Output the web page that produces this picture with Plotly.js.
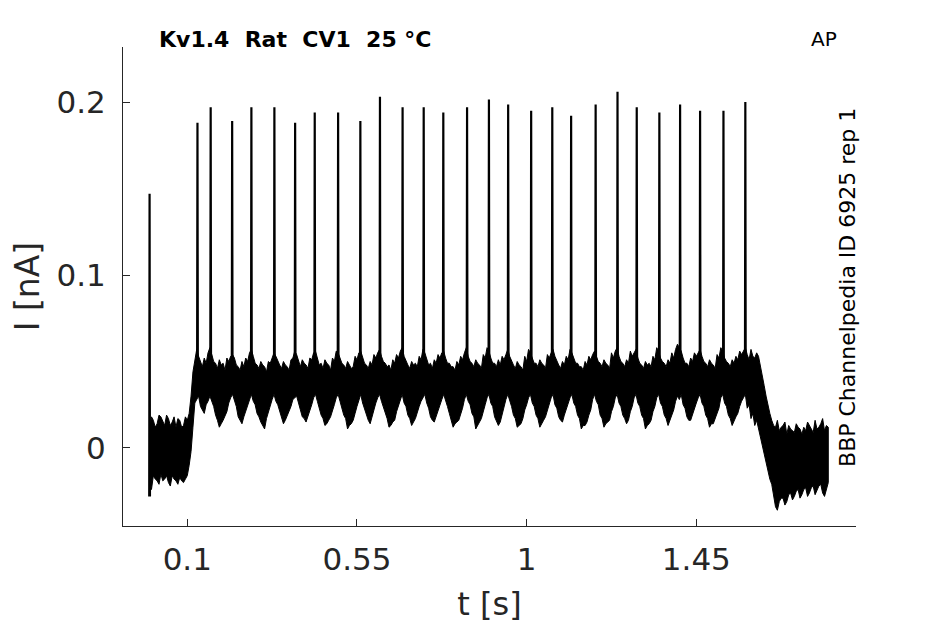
<!DOCTYPE html>
<html>
<head>
<meta charset="utf-8">
<script src="https://cdn.plot.ly/plotly-3.0.1.min.js"></script>
<style>html,body{margin:0;padding:0;background:#fff;}#chart{width:945px;height:624px;}</style>
</head>
<body>
<div id="chart"></div>
<script>
// Envelope of the noisy current trace (s, nA)
const envT = [0.00,0.01,0.02,0.03,0.04,0.05,0.06,0.07,0.08,0.09,0.10,0.11,0.12,0.13,0.14,0.15,0.16,0.17,0.18,0.19,
0.20,0.21,0.22,0.23,0.24,0.25,0.26,0.27,0.28,0.29,0.30,0.31,0.32,0.33,0.34,0.35,0.36,0.37,0.38,0.39,
0.40,0.41,0.42,0.43,0.44,0.45,0.46,0.47,0.48,0.49,0.50,0.51,0.52,0.53,0.54,0.55,0.56,0.57,0.58,0.59,
0.60,0.61,0.62,0.63,0.64,0.65,0.66,0.67,0.68,0.69,0.70,0.71,0.72,0.73,0.74,0.75,0.76,0.77,0.78,0.79,
0.80,0.81,0.82,0.83,0.84,0.85,0.86,0.87,0.88,0.89,0.90,0.91,0.92,0.93,0.94,0.95,0.96,0.97,0.98,0.99,
1.00,1.01,1.02,1.03,1.04,1.05,1.06,1.07,1.08,1.09,1.10,1.11,1.12,1.13,1.14,1.15,1.16,1.17,1.18,1.19,
1.20,1.21,1.22,1.23,1.24,1.25,1.26,1.27,1.28,1.29,1.30,1.31,1.32,1.33,1.34,1.35,1.36,1.37,1.38,1.39,
1.40,1.41,1.42,1.43,1.44,1.45,1.46,1.47,1.48,1.49,1.50,1.51,1.52,1.53,1.54,1.55,1.56,1.57,1.58,1.59,
1.60,1.61,1.62,1.63,1.64,1.65,1.66,1.67,1.68,1.69,1.70,1.71,1.72,1.73,1.74,1.75,1.76,1.77,1.78,1.79,1.80];

const envUpper = [0.010,0.016,0.014,0.018,0.013,0.017,0.015,0.012,0.016,0.013,0.016,0.030,0.052,0.053,0.047,0.049,0.058,0.050,0.046,0.048,
0.045,0.050,0.054,0.048,0.045,0.047,0.050,0.057,0.049,0.046,0.048,0.044,0.049,0.055,0.050,0.046,0.048,0.045,0.052,0.054,
0.047,0.049,0.046,0.051,0.056,0.048,0.046,0.049,0.045,0.050,0.055,0.049,0.046,0.048,0.047,0.051,0.056,0.049,0.046,0.048,
0.052,0.057,0.050,0.047,0.045,0.049,0.052,0.058,0.050,0.046,0.048,0.047,0.051,0.055,0.048,0.046,0.049,0.052,0.056,0.049,
0.047,0.045,0.048,0.051,0.058,0.050,0.047,0.049,0.046,0.052,0.056,0.049,0.047,0.048,0.051,0.057,0.050,0.046,0.048,0.045,
0.050,0.055,0.049,0.047,0.049,0.046,0.052,0.057,0.050,0.046,0.048,0.051,0.055,0.049,0.047,0.045,0.048,0.051,0.056,0.050,
0.047,0.049,0.046,0.052,0.058,0.050,0.047,0.049,0.053,0.057,0.049,0.046,0.048,0.047,0.051,0.056,0.050,0.047,0.049,0.052,
0.060,0.056,0.049,0.047,0.050,0.053,0.057,0.050,0.047,0.049,0.046,0.052,0.056,0.050,0.047,0.049,0.051,0.054,0.058,0.051,
0.053,0.055,0.048,0.036,0.024,0.016,0.012,0.010,0.013,0.008,0.011,0.009,0.012,0.008,0.010,0.013,0.009,0.011,0.014,0.010,0.012];

const envLower = [-0.020,-0.016,-0.019,-0.015,-0.018,-0.020,-0.016,-0.019,-0.017,-0.020,-0.016,-0.002,0.026,0.030,0.022,0.025,0.030,0.024,0.016,0.014,
0.018,0.026,0.031,0.024,0.016,0.018,0.024,0.031,0.025,0.018,0.013,0.017,0.024,0.031,0.025,0.018,0.016,0.021,0.028,0.030,
0.022,0.017,0.019,0.025,0.031,0.024,0.017,0.014,0.018,0.025,0.031,0.024,0.017,0.013,0.016,0.024,0.031,0.023,0.016,0.018,
0.026,0.031,0.024,0.017,0.013,0.016,0.024,0.031,0.024,0.017,0.015,0.020,0.027,0.031,0.023,0.016,0.018,0.025,0.031,0.024,
0.017,0.014,0.016,0.023,0.031,0.025,0.018,0.013,0.017,0.025,0.031,0.024,0.016,0.015,0.023,0.031,0.024,0.017,0.013,0.017,
0.025,0.031,0.024,0.017,0.014,0.018,0.025,0.031,0.023,0.016,0.019,0.026,0.031,0.024,0.017,0.013,0.015,0.022,0.031,0.025,
0.017,0.014,0.016,0.024,0.031,0.024,0.017,0.016,0.024,0.031,0.024,0.017,0.013,0.016,0.024,0.031,0.024,0.017,0.015,0.022,
0.030,0.031,0.023,0.016,0.019,0.026,0.031,0.024,0.017,0.014,0.016,0.023,0.031,0.024,0.017,0.015,0.020,0.027,0.031,0.025,
0.020,0.016,0.008,-0.004,-0.013,-0.021,-0.034,-0.031,-0.029,-0.031,-0.026,-0.028,-0.024,-0.027,-0.023,-0.026,-0.022,-0.025,-0.021,-0.028,-0.020];

// Extra noise excursions read between the samples above
const envTMid = [0.005,0.015,0.025,0.035,0.045,0.055,0.065,0.075,0.085,0.095,0.105,0.115,0.125,0.135,0.145,0.155,0.165,0.175,0.185,0.195,
0.205,0.215,0.225,0.235,0.245,0.255,0.265,0.275,0.285,0.295,0.305,0.315,0.325,0.335,0.345,0.355,0.365,0.375,0.385,0.395,
0.405,0.415,0.425,0.435,0.445,0.455,0.465,0.475,0.485,0.495,0.505,0.515,0.525,0.535,0.545,0.555,0.565,0.575,0.585,0.595,
0.605,0.615,0.625,0.635,0.645,0.655,0.665,0.675,0.685,0.695,0.705,0.715,0.725,0.735,0.745,0.755,0.765,0.775,0.785,0.795,
0.805,0.815,0.825,0.835,0.845,0.855,0.865,0.875,0.885,0.895,0.905,0.915,0.925,0.935,0.945,0.955,0.965,0.975,0.985,0.995,
1.005,1.015,1.025,1.035,1.045,1.055,1.065,1.075,1.085,1.095,1.105,1.115,1.125,1.135,1.145,1.155,1.165,1.175,1.185,1.195,
1.205,1.215,1.225,1.235,1.245,1.255,1.265,1.275,1.285,1.295,1.305,1.315,1.325,1.335,1.345,1.355,1.365,1.375,1.385,1.395,
1.405,1.415,1.425,1.435,1.445,1.455,1.465,1.475,1.485,1.495,1.505,1.515,1.525,1.535,1.545,1.555,1.565,1.575,1.585,1.595,
1.605,1.615,1.625,1.635,1.645,1.655,1.665,1.675,1.685,1.695,1.705,1.715,1.725,1.735,1.745,1.755,1.765,1.775,1.785,1.795];

const envUpperMid = [0.018,0.012,0.019,0.015,0.019,0.013,0.018,0.017,0.012,0.018,0.020,0.044,0.057,0.050,0.052,0.055,0.054,0.049,0.051,0.049,
0.052,0.053,0.052,0.047,0.050,0.052,0.055,0.053,0.048,0.050,0.047,0.050,0.052,0.053,0.048,0.050,0.047,0.051,0.056,0.050,
0.051,0.048,0.052,0.055,0.052,0.049,0.051,0.048,0.052,0.056,0.052,0.048,0.050,0.046,0.053,0.055,0.052,0.048,0.050,0.054,
0.055,0.053,0.049,0.048,0.051,0.054,0.056,0.053,0.048,0.050,0.049,0.053,0.057,0.051,0.049,0.051,0.054,0.055,0.052,0.049,
0.047,0.050,0.053,0.055,0.053,0.049,0.051,0.048,0.054,0.058,0.052,0.049,0.051,0.053,0.054,0.053,0.048,0.050,0.047,0.053,
0.057,0.052,0.049,0.051,0.048,0.054,0.055,0.053,0.048,0.050,0.053,0.057,0.052,0.049,0.047,0.050,0.053,0.054,0.053,0.049,
0.051,0.048,0.055,0.056,0.053,0.049,0.051,0.056,0.055,0.052,0.048,0.050,0.049,0.053,0.058,0.052,0.049,0.051,0.055,0.057,
0.058,0.052,0.049,0.052,0.055,0.055,0.053,0.049,0.051,0.048,0.054,0.058,0.052,0.049,0.051,0.053,0.056,0.056,0.054,0.057,
0.052,0.053,0.043,0.030,0.020,0.013,0.016,0.012,0.015,0.013,0.010,0.014,0.011,0.012,0.015,0.011,0.016,0.012,0.017,0.013];

const envLowerMid = [-0.024,-0.018,-0.021,-0.019,-0.016,-0.022,-0.018,-0.021,-0.019,-0.018,-0.010,0.012,0.028,0.024,0.020,0.027,0.027,0.019,0.012,0.016,
0.021,0.029,0.027,0.018,0.014,0.021,0.028,0.027,0.020,0.015,0.011,0.020,0.028,0.027,0.021,0.014,0.019,0.024,0.029,0.026,
0.018,0.015,0.022,0.029,0.027,0.019,0.013,0.016,0.021,0.029,0.027,0.019,0.011,0.014,0.020,0.028,0.026,0.019,0.014,0.022,
0.029,0.027,0.020,0.012,0.015,0.021,0.028,0.026,0.019,0.013,0.017,0.024,0.029,0.026,0.018,0.015,0.022,0.028,0.027,0.020,
0.012,0.015,0.020,0.028,0.027,0.020,0.011,0.015,0.021,0.029,0.026,0.018,0.013,0.019,0.028,0.027,0.019,0.012,0.014,0.022,
0.029,0.026,0.019,0.012,0.016,0.022,0.029,0.025,0.018,0.015,0.023,0.029,0.026,0.019,0.011,0.013,0.019,0.028,0.027,0.019,
0.012,0.015,0.021,0.029,0.026,0.019,0.014,0.021,0.029,0.026,0.019,0.011,0.014,0.021,0.029,0.026,0.019,0.013,0.019,0.027,
0.028,0.025,0.018,0.016,0.023,0.029,0.026,0.019,0.012,0.014,0.020,0.029,0.026,0.019,0.013,0.018,0.024,0.029,0.023,0.017,
0.013,0.011,0.001,-0.009,-0.018,-0.028,-0.036,-0.029,-0.033,-0.027,-0.030,-0.025,-0.029,-0.024,-0.028,-0.023,-0.027,-0.022,-0.026,-0.024];

// Action potential spikes: time (s), peak (nA), foot (nA)
const spikeT = [0.000,0.127,0.162,0.219,0.270,0.331,0.386,0.438,0.500,0.559,0.611,0.671,0.727,0.779,
0.842,0.900,0.951,1.012,1.068,1.118,1.183,1.241,1.292,1.352,1.407,1.460,1.522,1.580];
const spikePeak = [0.147,0.188,0.197,0.189,0.197,0.197,0.188,0.194,0.194,0.189,0.203,0.197,0.197,0.194,
0.197,0.2015,0.1985,0.195,0.197,0.192,0.1985,0.206,0.197,0.194,0.1985,0.195,0.195,0.200];
const spikeFoot = [-0.028,0.040,0.040,0.040,0.040,0.040,0.040,0.040,0.040,0.040,0.040,0.040,0.040,0.040,
0.040,0.040,0.040,0.040,0.040,0.040,0.040,0.040,0.040,0.040,0.040,0.040,0.040,0.040];

const xTickVals = [0.1, 0.55, 1, 1.45];
const xTickText = ['0.1', '0.55', '1', '1.45'];
const yTickVals = [0, 0.1, 0.2];
const yTickText = ['0', '0.1', '0.2'];

// band polygon: upper edge forward, lower edge backward
const upX = [], upY = [], loX = [], loY = [];
for (let i = 0; i < envT.length; i++) {
  upX.push(envT[i]); upY.push(envUpper[i]);
  loX.push(envT[i]); loY.push(envLower[i]);
  if (i < envTMid.length) {
    upX.push(envTMid[i]); upY.push(envUpperMid[i]);
    loX.push(envTMid[i]); loY.push(envLowerMid[i]);
  }
}
const bandX = upX.concat(loX.slice().reverse());
const bandY = upY.concat(loY.slice().reverse());

const spX = [], spY = [];
const hw = 0.001;
for (let i = 0; i < spikeT.length; i++) {
  spX.push(spikeT[i] - hw, spikeT[i], spikeT[i] + hw, null);
  spY.push(spikeFoot[i], spikePeak[i], spikeFoot[i], null);
}

const ink = '#262626';
const FONT = 'DejaVu Sans';

const traces = [
  {x: bandX, y: bandY, type: 'scatter', mode: 'lines', fill: 'toself',
   fillcolor: '#000', line: {color: '#000', width: 1}, hoverinfo: 'skip', showlegend: false},
  {x: spX, y: spY, type: 'scatter', mode: 'lines',
   line: {color: '#000', width: 2.2}, hoverinfo: 'skip', showlegend: false}
];

const layout = {
  width: 945, height: 624,
  margin: {l: 123, r: 89, t: 47, b: 98},
  paper_bgcolor: '#fff', plot_bgcolor: '#fff',
  showlegend: false,
  xaxis: {
    range: [-0.0705, 1.8735], showgrid: false, zeroline: false,
    showline: true, linecolor: ink, linewidth: 1,
    ticks: 'inside', ticklen: 7, tickwidth: 1, tickcolor: ink,
    tickvals: xTickVals, ticktext: xTickText, ticklabelstandoff: 6,
    tickfont: {family: FONT, size: 31, color: ink},
    title: {text: 't [s]', font: {family: FONT, size: 32, color: ink}, standoff: 16}
  },
  yaxis: {
    range: [-0.0451, 0.2318], showgrid: false, zeroline: false,
    showline: true, linecolor: ink, linewidth: 1,
    ticks: 'inside', ticklen: 7, tickwidth: 1, tickcolor: ink,
    tickvals: yTickVals, ticktext: yTickText, ticklabelstandoff: 10,
    tickfont: {family: FONT, size: 31, color: ink},
    title: {text: 'I [nA]', font: {family: FONT, size: 33, color: ink}, standoff: 6}
  },
  annotations: [
    {text: 'Kv1.4\u00a0\u00a0Rat\u00a0\u00a0CV1\u00a0\u00a025\u00a0°C', xref: 'paper', yref: 'paper',
     x: 0.0463, y: 1.0167, xanchor: 'left', yanchor: 'middle', showarrow: false,
     font: {family: FONT, size: 22, color: '#000', weight: 'bold'}},
    {text: 'AP', xref: 'paper', yref: 'paper', x: 0.9770, y: 1.0167,
     xanchor: 'right', yanchor: 'middle', showarrow: false,
     font: {family: FONT, size: 20, color: '#000'}},
    {text: 'BBP Channelpedia ID 6925 rep 1', xref: 'paper', yref: 'paper',
     x: 0.9884, y: 0.498, xanchor: 'center', yanchor: 'middle', textangle: -90,
     showarrow: false, font: {family: FONT, size: 22, color: '#000'}}
  ]
};

Plotly.newPlot('chart', traces, layout, {staticPlot: true, displayModeBar: false});
</script>
</body>
</html>
